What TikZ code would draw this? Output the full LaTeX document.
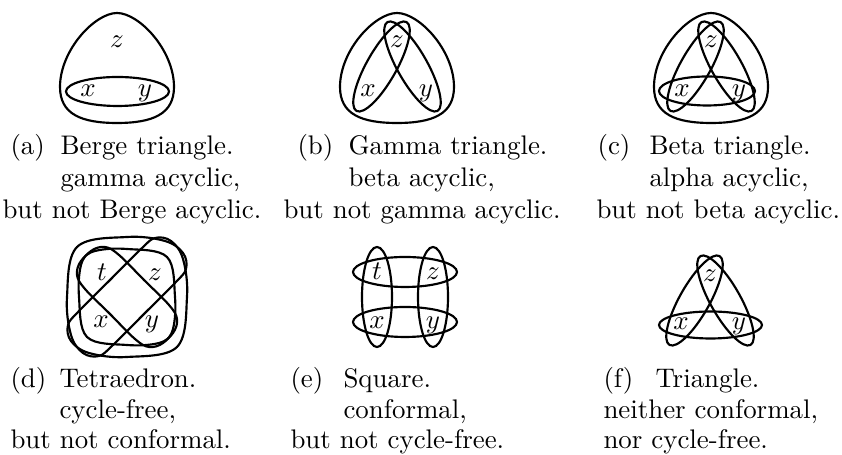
\documentclass[tikz,border=0pt]{standalone}
\begin{document}
\begin{tikzpicture}[x=0.372pt,y=-0.372pt,
  hedge/.style={line width=0.8pt},
  lbl/.style={anchor=base,inner sep=0pt},
  captxt/.style={anchor=base west,inner sep=0pt}]
\useasboundingbox (0,0) rectangle (842,455);
\tikzset{
  eggpath/.pic={\draw[hedge] (0,13) .. controls (22,13) and (57,50) .. (57,87) .. controls (57,114) and (36,123) .. (0,123) .. controls (-36,123) and (-57,114) .. (-57,87) .. controls (-57,50) and (-22,13) .. cycle;},
  looppair/.pic={
    \draw[hedge] (-15.5,66.5) circle [x radius=51, y radius=15, rotate=60.6];
    \draw[hedge] (15.5,66.5) circle [x radius=51, y radius=15, rotate=-60.6];},
  bigtri/.pic={\draw[hedge] plot[smooth cycle, tension=0.6] coordinates {(-50,-50) (0,-60) (38,-56) (56,-44) (59,-28) (48,-14) (17,17) (-14,48) (-28,59) (-44,56) (-56,38) (-60,0)};},
  smalltri/.pic={\draw[hedge] plot[smooth cycle, tension=0.6] coordinates {(-40,-40) (0,-48) (32,-46) (46,-36) (50,-22) (42,-8) (17,17) (-8,42) (-22,50) (-36,46) (-46,32) (-48,0)};}
}
% (a)
\pic at (117,0) {eggpath};
\draw[hedge] (117.5,91.5) ellipse [x radius=51.5, y radius=14.5];
\node[lbl] (az) at (117,48) {$z$};
\node[lbl] (ax) at (88,96.5) {$x$};
\node[lbl] (ay) at (145,96.5) {$y$};
% (b)
\pic at (397,0) {eggpath};
\pic at (397,0) {looppair};
\node[lbl] (bz) at (397,48) {$z$};
\node[lbl] (bx) at (368,96.5) {$x$};
\node[lbl] (by) at (426,96.5) {$y$};
% (c)
\pic at (711,0) {eggpath};
\pic at (711,0) {looppair};
\draw[hedge] (707,91) ellipse [x radius=48, y radius=14.5];
\node[lbl] (cz) at (711,48) {$z$};
\node[lbl] (cx) at (682,96.5) {$x$};
\node[lbl] (cy) at (739,96.5) {$y$};
% (d)
\pic at (127,297) {bigtri};
\pic[rotate=180] at (127,297) {bigtri};
\pic[rotate=90] at (127,297) {smalltri};
\pic[rotate=-90] at (127,297) {smalltri};
\node[lbl] (dt) at (102,281) {$t$};
\node[lbl] (dz) at (155,281) {$z$};
\node[lbl] (dx) at (101,328) {$x$};
\node[lbl] (dy) at (152,328) {$y$};
% (e)
\draw[hedge] (405,272) ellipse [x radius=52, y radius=15];
\draw[hedge] (405,322) ellipse [x radius=52, y radius=15];
\draw[hedge] (377,297) ellipse [x radius=15, y radius=50];
\draw[hedge] (433,297) ellipse [x radius=15, y radius=50];
\node[lbl] (et) at (377,280) {$t$};
\node[lbl] (ez) at (433,280) {$z$};
\node[lbl] (ex) at (377,329) {$x$};
\node[lbl] (ey) at (433,329) {$y$};
% (f)
\pic at (710,234) {looppair};
\draw[hedge] (710.5,325) ellipse [x radius=51.5, y radius=13.5];
\node[lbl] (fz) at (710,282) {$z$};
\node[lbl] (fx) at (681,330) {$x$};
\node[lbl] (fy) at (739,330) {$y$};
% captions row 1
\node[captxt] (la) at (10,155) {(a)};
\node[captxt] (ta1) at (60,155) {Berge triangle.};
\node[captxt] (ta2) at (60,187) {gamma acyclic,};
\node[captxt] (ta3) at (2,219) {but not Berge acyclic.};
\node[captxt] (lb) at (297,155) {(b)};
\node[captxt] (tb1) at (348,155) {Gamma triangle.};
\node[captxt] (tb2) at (348,187) {beta acyclic,};
\node[captxt] (tb3) at (283,219) {but not gamma acyclic.};
\node[captxt] (lc) at (597,155) {(c)};
\node[captxt] (tc1) at (649,155) {Beta triangle.};
\node[captxt] (tc2) at (649,187) {alpha acyclic,};
\node[captxt] (tc3) at (596,219) {but not beta acyclic.};
% captions row 2
\node[captxt] (ld) at (10,388) {(d)};
\node[captxt] (td1) at (59,388) {Tetraedron.};
\node[captxt] (td2) at (59,419) {cycle-free,};
\node[captxt] (td3) at (10,449) {but not conformal.};
\node[captxt] (le) at (290,388) {(e)};
\node[captxt] (te1) at (343,388) {Square.};
\node[captxt] (te2) at (343,419) {conformal,};
\node[captxt] (te3) at (290,449) {but not cycle-free.};
\node[captxt] (lf) at (603,388) {(f)};
\node[captxt] (tf1) at (655,388) {Triangle.};
\node[captxt] (tf2) at (603,419) {neither conformal,};
\node[captxt] (tf3) at (603,449) {nor cycle-free.};
\end{tikzpicture}
\end{document}
